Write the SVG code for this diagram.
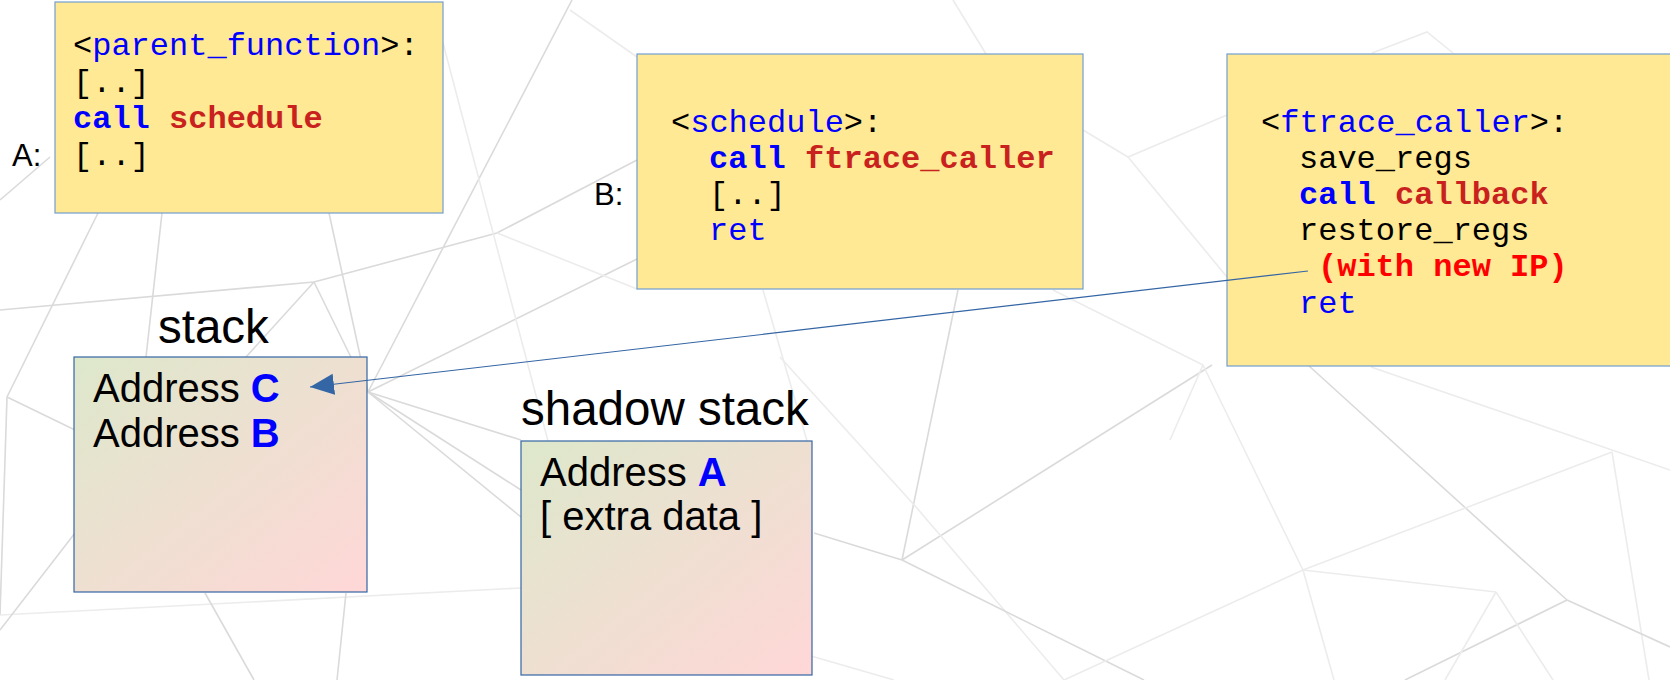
<svg xmlns="http://www.w3.org/2000/svg" width="1670" height="680" viewBox="0 0 1670 680">
  <style>
    .mesh line, .mesh polyline { stroke: #dadada; stroke-width: 1.6; fill: none; }
    .mesh .faint { stroke: #ececec; }
    .code-box { fill: #ffe994; stroke: #729fcf; stroke-width: 1.2; }
    .stack-box { fill: url(#stackFill); stroke: #3465a4; stroke-width: 1.2; }
    .mono { font-family: "Liberation Mono", "Courier New", monospace; font-size: 32px; fill: #000000; }
    .sans { font-family: "Liberation Sans", Arial, sans-serif; fill: #000000; }
    .tag { font-size: 31px; }
    .title { font-size: 47.5px; }
    .entry { font-size: 40px; }
    .name { fill: #0000ff; }
    .kw { fill: #0000ff; font-weight: bold; }
    .target { fill: #c9211e; font-weight: bold; }
    .note { fill: #ff0000; font-weight: bold; }
    .addr { fill: #0000ff; font-weight: bold; }
    .link { stroke: #3465a4; stroke-width: 1.2; fill: none; }
  </style>
  <defs>
    <linearGradient id="stackFill" x1="0" y1="0" x2="1" y2="1">
      <stop offset="0" stop-color="#dde8cb"/>
      <stop offset="1" stop-color="#ffd7d7"/>
    </linearGradient>
    <marker id="arrowHead" markerUnits="userSpaceOnUse" markerWidth="26" markerHeight="24" viewBox="0 0 26 24" refX="24" refY="12" orient="auto">
      <polygon points="24,12 0,1.5 0,22.5" fill="#3465a4"/>
    </marker>
  </defs>

  <rect width="1670" height="680" fill="#ffffff"/>

  <!-- low-poly background mesh -->
  <g class="mesh">
    <line x1="98" y1="213" x2="7" y2="397"/>
    <line x1="162" y1="213" x2="146" y2="357"/>
    <line x1="329" y1="213" x2="368" y2="392"/>
    <line x1="0" y1="310" x2="314" y2="282"/>
    <polyline points="314,282 497,233 637,160"/>
    <line x1="314" y1="282" x2="368" y2="392"/>
    <line x1="314" y1="282" x2="246" y2="357"/>
    <line x1="368" y1="392" x2="572" y2="0"/>
    <line x1="368" y1="392" x2="637" y2="259"/>
    <line x1="368" y1="392" x2="521" y2="440"/>
    <line x1="368" y1="392" x2="521" y2="490"/>
    <line x1="368" y1="392" x2="521" y2="517"/>
    <line x1="443" y1="43" x2="548" y2="441" class="faint"/>
    <line x1="497" y1="233" x2="637" y2="289" class="faint"/>
    <line x1="763" y1="290" x2="807" y2="441" class="faint"/>
    <line x1="7" y1="397" x2="75" y2="430"/>
    <line x1="7" y1="397" x2="0" y2="615"/>
    <line x1="0" y1="615" x2="521" y2="588" class="faint"/>
    <line x1="205" y1="593" x2="254" y2="680"/>
    <line x1="346" y1="593" x2="337" y2="680"/>
    <line x1="75" y1="533" x2="0" y2="630"/>
    <line x1="50" y1="157" x2="0" y2="200"/>
    <line x1="570" y1="10" x2="637" y2="57" class="faint"/>
    <line x1="953" y1="0" x2="986" y2="54" class="faint"/>
    <polyline points="1083,130 1128,157 1227,115" class="faint"/>
    <line x1="1128" y1="157" x2="1227" y2="277" class="faint"/>
    <polyline points="1372,53 1427,32 1453,53" class="faint"/>
    <line x1="958" y1="290" x2="902" y2="560"/>
    <line x1="902" y1="560" x2="1212" y2="365"/>
    <line x1="1203" y1="365" x2="1303" y2="570" class="faint"/>
    <line x1="1053" y1="290" x2="1203" y2="365" class="faint"/>
    <line x1="1203" y1="365" x2="1170" y2="440" class="faint"/>
    <line x1="780" y1="357" x2="916" y2="507" class="faint"/>
    <line x1="916" y1="507" x2="1064" y2="680" class="faint"/>
    <line x1="814" y1="533" x2="902" y2="560"/>
    <line x1="902" y1="560" x2="1144" y2="680"/>
    <line x1="780" y1="647" x2="894" y2="680" class="faint"/>
    <line x1="1303" y1="570" x2="1496" y2="592" class="faint"/>
    <line x1="1303" y1="570" x2="1064" y2="680" class="faint"/>
    <line x1="1303" y1="570" x2="1334" y2="680" class="faint"/>
    <line x1="1308" y1="365" x2="1567" y2="600"/>
    <line x1="1371" y1="367" x2="1670" y2="470" class="faint"/>
    <line x1="1303" y1="570" x2="1612" y2="452" class="faint"/>
    <line x1="1612" y1="452" x2="1649" y2="680" class="faint"/>
    <line x1="1567" y1="600" x2="1405" y2="680"/>
    <line x1="1567" y1="600" x2="1670" y2="647"/>
    <line x1="1496" y1="592" x2="1553" y2="680" class="faint"/>
    <line x1="1496" y1="592" x2="1445" y2="680" class="faint"/>
  </g>

  <!-- A: parent_function -->
  <g id="node-parent-function">
    <rect class="code-box" x="55" y="2" width="388" height="211"/>
    <text class="sans tag" x="12" y="166">A:</text>
    <text class="mono" x="73" y="55">&lt;<tspan class="name">parent_function</tspan>&gt;:</text>
    <text class="mono" x="73" y="91.5">[..]</text>
    <text class="mono" x="73" y="128"><tspan class="kw">call</tspan> <tspan class="target">schedule</tspan></text>
    <text class="mono" x="73" y="164.5">[..]</text>
  </g>

  <!-- B: schedule -->
  <g id="node-schedule">
    <rect class="code-box" x="637" y="54" width="446" height="235"/>
    <text class="sans tag" x="594" y="205">B:</text>
    <text class="mono" x="671" y="131.5">&lt;<tspan class="name">schedule</tspan>&gt;:</text>
    <text class="mono" x="709" y="167.7"><tspan class="kw">call</tspan> <tspan class="target">ftrace_caller</tspan></text>
    <text class="mono" x="709" y="203.9">[..]</text>
    <text class="mono name" x="709" y="240.1">ret</text>
  </g>

  <!-- ftrace_caller -->
  <g id="node-ftrace-caller">
    <rect class="code-box" x="1227" y="54" width="450" height="312"/>
    <text class="mono" x="1261" y="131.5">&lt;<tspan class="name">ftrace_caller</tspan>&gt;:</text>
    <text class="mono" x="1299" y="167.7">save_regs</text>
    <text class="mono" x="1299" y="203.9"><tspan class="kw">call</tspan> <tspan class="target">callback</tspan></text>
    <text class="mono" x="1299" y="240.1">restore_regs</text>
    <text class="mono note" x="1318" y="276.3">(with new IP)</text>
    <text class="mono name" x="1299" y="312.5">ret</text>
  </g>

  <!-- stack -->
  <g id="node-stack">
    <text class="sans title" x="158" y="343">stack</text>
    <rect class="stack-box" x="74" y="357" width="293" height="235"/>
    <text class="sans entry" x="93" y="401.5">Address <tspan class="addr">C</tspan></text>
    <text class="sans entry" x="93" y="446.5">Address <tspan class="addr">B</tspan></text>
  </g>

  <!-- shadow stack -->
  <g id="node-shadow-stack">
    <text class="sans title" x="521" y="425">shadow stack</text>
    <rect class="stack-box" x="521" y="441" width="291" height="234"/>
    <text class="sans entry" x="540" y="486">Address <tspan class="addr">A</tspan></text>
    <text class="sans entry" x="540" y="530">[ extra data ]</text>
  </g>

  <!-- connectors: return address rewritten by ftrace_caller -->
  <g id="connectors">
    <line class="link" x1="1308" y1="271" x2="310" y2="387" marker-end="url(#arrowHead)"/>
  </g>
</svg>
